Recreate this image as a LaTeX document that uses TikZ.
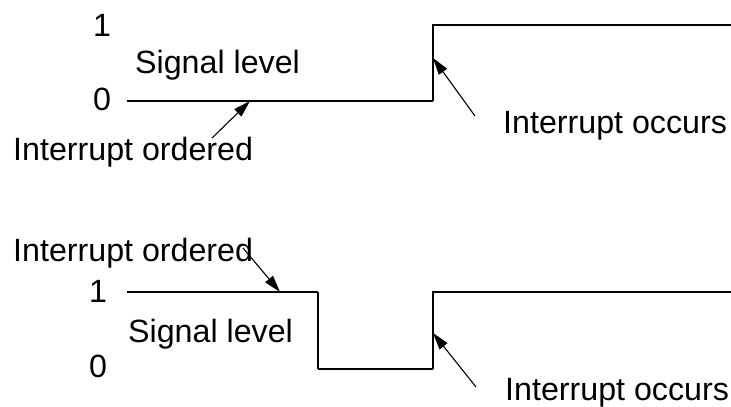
\documentclass[tikz,border=0pt]{standalone}
\usepackage{fontspec}
\setmainfont{Liberation Sans}
\usetikzlibrary{arrows.meta}
\begin{document}
\begin{tikzpicture}[x=1pt,y=-1pt,
  lbl/.style={inner sep=0pt,font=\fontsize{32.2}{34}\selectfont},
  thinwave/.style={line width=1.3pt},
  thickwave/.style={line width=2.4pt,line join=miter},
  pointer/.style={line width=1.1pt,-{Triangle[length=17pt,width=10pt]}}]
\useasboundingbox (0,0) rectangle (731,407);
% ---------- top diagram ----------
\node[lbl,anchor=base] (one1) at (102,36) {1};
\node[lbl,anchor=base] (zero1) at (102,110) {0};
\node[lbl,anchor=base west] (sig1) at (135,73) {Signal level};
\node[lbl,anchor=base west] (ord1) at (13,160) {Interrupt ordered};
\node[lbl,anchor=base west] (occ1) at (503,133) {Interrupt occurs};
\coordinate (a0) at (127,101);
\coordinate (a1) at (433,101);
\coordinate (a2) at (433,25);
\coordinate (a3) at (731,25);
\draw[thinwave] (a0) -- (a1);
\draw[thickwave] (a1) -- (a2) -- (a3);
\coordinate (ordtail1) at (212,138);
\coordinate (ordtip1) at (250,101);
\coordinate (occtail1) at (475,116);
\coordinate (occtip1) at (433,58);
\draw[pointer] (ordtail1) -- (ordtip1);
\draw[pointer] (occtail1) -- (occtip1);
% ---------- bottom diagram ----------
\node[lbl,anchor=base west] (ord2) at (13,261) {Interrupt ordered};
\node[lbl,anchor=base] (one2) at (98,302) {1};
\node[lbl,anchor=base west] (sig2) at (128,342) {Signal level};
\node[lbl,anchor=base] (zero2) at (98,377) {0};
\node[lbl,anchor=base west] (occ2) at (505,400) {Interrupt occurs};
\coordinate (b0) at (127,292);
\coordinate (b1) at (318,292);
\coordinate (b2) at (318,369);
\coordinate (b3) at (433,369);
\coordinate (b4) at (433,292);
\coordinate (b5) at (731,292);
\draw[thinwave] (b0) -- (b1);
\draw[thickwave] (b1) -- (b2);
\draw[thinwave] (b2) -- (b3);
\draw[thickwave] (b3) -- (b4) -- (b5);
\coordinate (ordtail2) at (243,248);
\coordinate (ordtip2) at (280,292);
\coordinate (occtail2) at (476,387);
\coordinate (occtip2) at (433,333);
\draw[pointer] (ordtail2) -- (ordtip2);
\draw[pointer] (occtail2) -- (occtip2);
\end{tikzpicture}
\end{document}
